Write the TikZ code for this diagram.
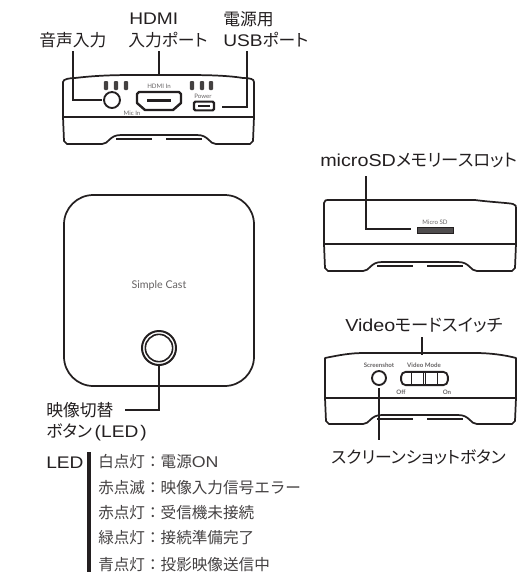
\documentclass[tikz,border=0pt]{standalone}
\usepackage{fontspec}
\setmainfont{Noto Sans CJK JP}[RawFeature=+palt]
\newfontfamily\fullfont{Noto Sans CJK JP}
\newfontfamily\smallfont{Lato}
\newfontfamily\latfont[FakeStretch=1.14]{Liberation Sans}
\newcommand{\lat}[1]{{\latfont #1}}
\definecolor{ink}{HTML}{231F20}
\tikzset{
  x=0.75pt,y=-0.75pt,
  body/.style={draw=ink,line width=1.3pt,line join=round},
  thin part/.style={draw=ink,line width=0.6pt},
  leader/.style={draw=ink,line width=1.7pt},
  label/.style={font=\fontsize{12.6pt}{15pt}\selectfont,text=ink,inner sep=0pt,anchor=base west},
  biglabel/.style={label,font=\fontsize{13pt}{15pt}\selectfont},
  ledtext/.style={font=\fullfont\fontsize{11.7pt}{14pt}\selectfont,text=ink!85,inner sep=0pt,anchor=base west},
  tiny/.style={font=\smallfont\fontsize{4.6pt}{5pt}\selectfont,text=ink!70,inner sep=0pt},
  tinyb/.style={font=\smallfont\bfseries\fontsize{4.6pt}{5pt}\selectfont,text=ink!70,inner sep=0pt},
  bar/.style={fill=ink!85,rounded corners=0.8pt},
}
\newcommand{\lowerbody}[5]{% left,right,divider y,bottom y,notch
  \draw[body] (#1,#3) -- (#2,#3);
  \draw[body] (#1,#3) -- (#1+1,#4-3) -- (#1+4,#4) -- (#5-57,#4) .. controls (#5-50,#4) and (#5-50,#4-9) .. (#5-38,#4-9)
     -- (#5+38,#4-9) .. controls (#5+50,#4-9) and (#5+50,#4) .. (#5+57,#4) -- (#2-4,#4) -- (#2-1,#4-3) -- (#2,#3);
  \draw[ink,line width=1pt] (#5-43,#4-5) -- (#5-7,#4-5) (#5+7,#4-5) -- (#5+43,#4-5);
}
\begin{document}
\begin{tikzpicture}
\useasboundingbox (0,0) rectangle (522,576);
% ---------- labels top
\node[label] (audio) at (39,46) {音声入力};
\node[label] (hdmi) at (129,24) {\lat{HDMI}};
\node[label] (hdmiport) at (128,46) {入力ポート};
\node[label] (usb) at (223,25) {電源用};
\node[label] (usbport) at (223,46) {\lat{USB}ポート};
% ---------- top device
\draw[body] (63,117) -- (63,82) .. controls (63,79) and (70,78) .. (75,78) .. controls (100,75) and (120,75) .. (140,75)
   -- (180,75) .. controls (200,75) and (225,75) .. (243,78) .. controls (250,78) and (254,79) .. (254,82) -- (254,117);
\lowerbody{63}{254}{117}{144}{159}
\foreach \xx in {106,116,126,192,202,211} \fill[bar] (\xx-2.2,81) rectangle (\xx+2.2,90);
\node[circle,draw=ink,line width=1.4pt,minimum size=12pt,inner sep=0pt] (jack) at (112,100) {};
\draw[ink,line width=1.8pt,fill=white,line join=round] (137,94) -- (139,92) -- (179,92) -- (181,94) -- (181,103) -- (173,110) -- (145,110) -- (137,103) -- cycle;
\fill[ink] (147,99) rectangle (171,102);
\node[draw=ink,line width=1.6pt,rounded corners=1pt,minimum width=15pt,minimum height=6.5pt,inner sep=0pt] (micro) at (204,106) {};
\fill[ink] (198,105) rectangle (210,107);
\node[tiny] (hdmitxt) at (159,86) {HDMI In};
\node[tiny] (powertxt) at (203,96) {Power};
\node[tiny] (mictxt) at (132,113) {Mic In};
\coordinate (audioA) at (73,51);
\coordinate (audioB) at (102,100);
\coordinate (hdmiA) at (159,51);
\coordinate (hdmiB) at (159,75);
\coordinate (usbA) at (247,51);
\coordinate (usbB) at (222,107);
\draw[leader] (audioA) |- (audioB);
\draw[leader] (hdmiA) -- (hdmiB);
\draw[leader] (usbA) |- (usbB);
% ---------- main device
\draw[body,rounded corners=22pt] (64,195) rectangle (254,386);
\node[font=\smallfont\fontsize{8pt}{9pt}\selectfont,text=ink!70,inner sep=0pt] (brand) at (159,285) {Simple Cast};
\node[circle,draw=ink,line width=1.5pt,minimum size=25.5pt,inner sep=0pt] (btn) at (159,348) {};
\node[circle,draw=ink,line width=1.2pt,minimum size=20.5pt,inner sep=0pt] (btninner) at (159,348) {};
\node[label] (switch) at (46,416) {映像切替};
\node[label] (switchb) at (46,437) {ボタン\hspace{2pt}\lat{(LED\hspace{1.5pt})}};
\coordinate (swA) at (125,410);
\draw[leader] (btn.south) |- (swA);
% ---------- LED list
\node[label] (led) at (46,468) {\lat{LED}};
\coordinate (ledT) at (89,452);
\coordinate (ledB) at (89,572);
\draw[draw=ink,line width=2.6pt] (ledT) -- (ledB);
\node[ledtext] (l1) at (98,467) {白点灯：電源\lat{ON}};
\node[ledtext] (l2) at (98,493) {赤点滅：映像入力信号エラー};
\node[ledtext] (l3) at (98,518) {赤点灯：受信機未接続};
\node[ledtext] (l4) at (98,543) {緑点灯：接続準備完了};
\node[ledtext] (l5) at (98,570) {青点灯：投影映像送信中};
% ---------- SD device
\node[biglabel] (sd) at (320,166) {\lat{microSD}メモリースロット};
\draw[body] (324,244) -- (324,203) .. controls (324,200) and (326,200) .. (330,200) -- (475,200) .. controls (490,202) and (510,203) .. (513,204) .. controls (516,205) and (516,206) .. (516,208) -- (516,244);
\lowerbody{324}{516}{244}{271}{420}
\node[draw=ink,fill=ink!80,line width=0.5pt,minimum width=27pt,minimum height=4.6pt,inner sep=0pt] (slot) at (435,230) {};
\node[tiny] (sdtxt) at (435,222) {Micro SD};
\coordinate (sdA) at (366,176);
\coordinate (sdB) at (411,229);
\draw[leader] (sdA) |- (sdB);
% ---------- video device
\node[biglabel] (video) at (345,331) {\lat{Video}モードスイッチ};
\draw[body] (325,398) -- (325,358) .. controls (340,355) and (350,353) .. (365,353) -- (475,353) .. controls (490,353) and (505,355) .. (516,358) -- (516,398);
\lowerbody{325}{516}{398}{424}{420}
\node[tinyb] (sstxt) at (379,365) {Screenshot};
\node[tinyb] (vmtxt) at (424,365) {Video Mode};
\node[tinyb] (offtxt) at (401,392) {Off};
\node[tinyb] (ontxt) at (447,392) {On};
\node[circle,draw=ink,line width=1.4pt,minimum size=10.5pt,inner sep=0pt] (ssbtn) at (379,378) {};
\node[draw=ink,line width=1.4pt,rounded corners=3.5pt,minimum width=35pt,minimum height=10pt,inner sep=0pt] (sw) at (424.5,378.5) {};
\draw[thin part] (411,372) rectangle (437,385);
\draw[thin part] (423,372) -- (423,385) (425,372) -- (425,385);
\node[label] (ss) at (331,463) {スクリーンショットボタン};
\coordinate (vidA) at (422,337);
\coordinate (vidB) at (422,355);
\coordinate (ssA) at (379,388);
\coordinate (ssB) at (379,440);
\draw[leader] (vidA) -- (vidB);
\draw[leader] (ssA) -- (ssB);
\end{tikzpicture}
\end{document}
